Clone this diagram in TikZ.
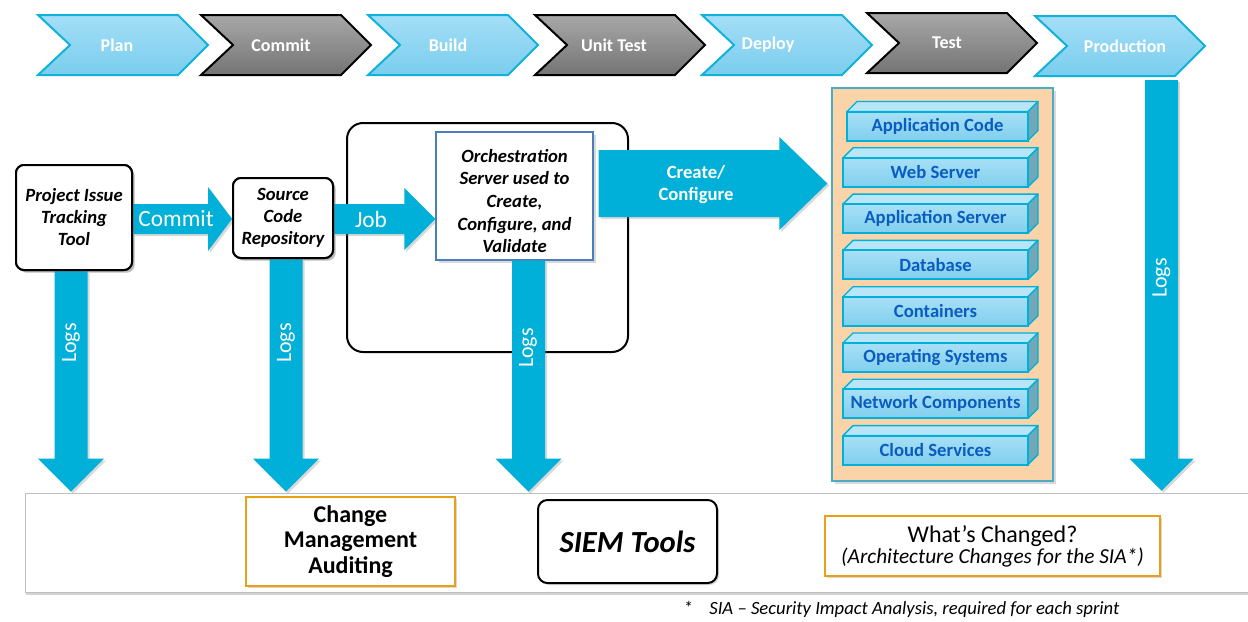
\documentclass[tikz,border=0pt]{standalone}
\usepackage{fontspec}
\setmainfont{Carlito}
\usetikzlibrary{calc,shadows}
\definecolor{blk}{RGB}{0,176,216}
\definecolor{chevline}{RGB}{16,178,218}
\definecolor{chevtop}{RGB}{164,222,247}
\definecolor{chevbot}{RGB}{122,205,238}
\definecolor{graytop}{RGB}{168,168,168}
\definecolor{graybot}{RGB}{116,116,116}
\definecolor{orangeb}{RGB}{232,160,20}
\definecolor{stackbg}{RGB}{250,212,168}
\definecolor{stackline}{RGB}{75,172,198}
\definecolor{laytopc}{RGB}{184,230,248}
\definecolor{layfronttop}{RGB}{168,224,246}
\definecolor{layfrontbot}{RGB}{128,207,238}
\definecolor{laysidec}{RGB}{112,168,186}
\definecolor{laytext}{RGB}{10,92,192}
\definecolor{orchline}{RGB}{74,126,187}
\newcommand\chev[6]{%
  \path[#3] (#1,#2) -- ++(140,0) -- ++(30,30) -- ++(-30,30) -- ++(-140,0) -- ++(32,-30) -- cycle;
  \node[chevtext] (#4) at ($(#1,#2)+(#6,30)$) {#5};}
\newcommand\hblk[5]{%
  \fill[blkarrow] ($(#1)+(0,-#3)$) -- ($(#2)+(-#5,-#3)$) -- ($(#2)+(-#5,-#4)$) -- (#2)
    -- ($(#2)+(-#5,#4)$) -- ($(#2)+(-#5,#3)$) -- ($(#1)+(0,#3)$) -- cycle;}
\newcommand\vblk[5]{%
  \fill[blkarrow] ($(#1)+(-#3,0)$) -- ($(#2)+(-#3,-#5)$) -- ($(#2)+(-#4,-#5)$) -- (#2)
    -- ($(#2)+(#4,-#5)$) -- ($(#2)+(#3,-#5)$) -- ($(#1)+(#3,0)$) -- cycle;}
\newcommand\layer[4]{%
  \filldraw[laytop] (#1,#2-14.5) -- (#1+10,#2-24.5) -- (1038,#2-24.5) -- (1028,#2-14.5) -- cycle;
  \filldraw[layside] (1028,#2-14.5) -- (1038,#2-24.5) -- (1038,#2+4.5) -- (1028,#2+14.5) -- cycle;
  \node[layfront, minimum width={(1028-#1)*0.75pt}] (#3) at ({(#1+1028)/2},#2) {#4};}
\begin{document}
\begin{tikzpicture}[x=0.75pt,y=-0.75pt,
  blkarrow/.style={fill=blk, drop shadow={shadow xshift=1.5pt,shadow yshift=-1.5pt,opacity=0.3}},
  chevblue/.style={draw=chevline, line width=1.5pt, top color=chevtop, bottom color=chevbot},
  chevgray/.style={draw=black, line width=1.5pt, top color=graytop, bottom color=graybot},
  chevtext/.style={text=white, font=\bfseries\fontsize{13.5}{16}\selectfont},
  roundbox/.style={draw=black, line width=1.5pt, fill=white, rounded corners=6pt, align=center,
    inner sep=0pt, drop shadow={shadow xshift=2pt,shadow yshift=-2pt,opacity=0.3},
    font=\bfseries\itshape\fontsize{14}{16.5}\selectfont},
  arrowlbl/.style={text=white, font=\fontsize{17.5}{20}\selectfont},
  logslbl/.style={text=white, rotate=90, font=\fontsize{16.5}{18}\selectfont},
  laytop/.style={fill=laytopc, draw=blk, line width=1pt, line join=round},
  layside/.style={fill=laysidec, draw=blk, line width=1pt, line join=round},
  layfront/.style={draw=blk, line width=1.5pt, top color=layfronttop, bottom color=layfrontbot,
    minimum height=21.75pt, inner sep=0pt, text=laytext, font=\bfseries\fontsize{14}{16}\selectfont},
  orangebox/.style={draw=orangeb, line width=1.8pt, fill=white, align=center, inner sep=0pt,
    drop shadow={shadow xshift=1.5pt,shadow yshift=-1.5pt,opacity=0.3}}
]
\useasboundingbox (0,0) rectangle (1248,621);

% phase chevrons
\chev{38}{15}{chevblue}{plan}{Plan}{79}
\chev{201}{15}{chevgray}{commit}{Commit}{80}
\chev{368}{15}{chevblue}{build}{Build}{80}
\chev{535}{15}{chevgray}{unittest}{Unit Test}{79}
\chev{702}{15}{chevblue}{deploy}{Deploy}{66}
\chev{867}{13}{chevgray}{test}{Test}{80}
\chev{1035}{16}{chevblue}{prod}{Production}{90}

% bottom panel
\node[draw=black!25, fill=white, minimum width=926.25pt, minimum height=74.25pt, inner sep=0pt,
  drop shadow={shadow xshift=1pt,shadow yshift=-2pt,opacity=0.35}] (panel) at (642.5,542.5) {};

% orchestration frame
\node[draw=black, line width=1.5pt, rounded corners=12pt, minimum width=210.75pt,
  minimum height=171.75pt, inner sep=0pt] (orchbg) at (487.5,237.5) {};

% stack panel
\node[draw=stackline, line width=1pt, fill=stackbg, minimum width=165.75pt, minimum height=294.75pt,
  inner sep=0pt, drop shadow={shadow xshift=2.5pt,shadow yshift=-2.5pt,opacity=0.3}] (stack) at (942.5,284.5) {};

% main boxes
\node[roundbox, minimum width=87pt, minimum height=78.75pt] (ptt) at (74,217.5)
  {Project Issue\\Tracking\\Tool};
\node[roundbox, minimum width=75pt, minimum height=60pt] (scr) at (283,218)
  {Source\\Code\\Repository};
\node[draw=orchline, line width=0.8pt, fill=white, minimum width=117.75pt, minimum height=96pt,
  inner sep=0pt, drop shadow={shadow xshift=2pt,shadow yshift=-2pt,opacity=0.3}] (orch) at (514.5,196) {};
\node[align=center, font=\bfseries\itshape\fontsize{14}{17}\selectfont] (orchtxt) at ($(orch.center)+(0,5)$)
  {Orchestration\\Server used to\\Create,\\Configure, and\\Validate};

% connectors (block arrows)
\coordinate (cA) at (ptt.east |- 0,219);
\coordinate (cB) at (scr.west |- 0,219);
\hblk{cA}{cB}{15}{32}{24}
\node[arrowlbl] (lcommit) at (176,219) {Commit};
\coordinate (jA) at (scr.east |- 0,219);
\coordinate (jB) at (orch.west |- 0,219);
\hblk{jA}{jB}{15}{31}{31}
\node[arrowlbl] (ljob) at (371,219) {Job};
\coordinate (gA) at ($(orch.east |- 0,183.5)+(5,0)$);
\coordinate (gB) at ($(stack.west |- 0,183.5)+(-4,0)$);
\hblk{gA}{gB}{33.5}{46.5}{48}
\node[text=white, align=center, font=\bfseries\fontsize{14}{16.5}\selectfont] (lcreate) at (696,185)
  {Create/\\Configure};

\coordinate (l1t) at ($(ptt.south)+(-3,0)$);
\coordinate (l1b) at ($(l1t |- panel.north)+(0,-1)$);
\vblk{l1t}{l1b}{16.5}{33}{33}
\node[logslbl] (logs1) at (71,343) {Logs};
\coordinate (l2t) at ($(scr.south)+(3,0)$);
\coordinate (l2b) at ($(l2t |- panel.north)+(0,-1)$);
\vblk{l2t}{l2b}{16.5}{33}{33}
\node[logslbl] (logs2) at (286,343) {Logs};
\coordinate (l3t) at ($(orch.south)+(14,0)$);
\coordinate (l3b) at ($(l3t |- panel.north)+(0,-1)$);
\vblk{l3t}{l3b}{16.5}{33}{33}
\node[logslbl] (logs3) at (528,348) {Logs};
\coordinate (l4t) at (1161.5,80);
\coordinate (l4b) at ($(l4t |- panel.north)+(0,-2)$);
\vblk{l4t}{l4b}{16.5}{32}{32}
\node[logslbl] (logs4) at (1161.5,278) {Logs};

% redraw box fronts over arrow starts
\node[roundbox, minimum width=87pt, minimum height=78.75pt] at (ptt) {Project Issue\\Tracking\\Tool};
\node[roundbox, minimum width=75pt, minimum height=60pt] at (scr) {Source\\Code\\Repository};

% stack layers
\layer{847}{126}{appcode}{Application Code}
\layer{843}{172.3}{websrv}{Web Server}
\layer{843}{218.6}{appsrv}{Application Server}
\layer{843}{264.9}{db}{Database}
\layer{843}{311.2}{cont}{Containers}
\layer{843}{357.5}{os}{Operating Systems}
\layer{843}{403.8}{net}{Network Components}
\layer{843}{450.1}{cloud}{Cloud Services}

% bottom boxes
\node[orangebox, minimum width=156.75pt, minimum height=66.75pt,
  font=\bfseries\fontsize{18}{19}\selectfont] (cma) at (350.5,541.5) {Change\\Management\\Auditing};
\node[draw=black, line width=1.5pt, fill=white, rounded corners=7pt, minimum width=134.25pt,
  minimum height=62.25pt, inner sep=0pt, drop shadow={shadow xshift=1.5pt,shadow yshift=-1.5pt,opacity=0.3},
  font=\bfseries\itshape\fontsize{23}{26}\selectfont] (siem) at (627.5,541.5) {SIEM Tools};
\node[orangebox, minimum width=251.25pt, minimum height=45pt] (wc) at (992.5,546)
  {{\fontsize{18}{17}\selectfont What’s Changed?}\\{\itshape\fontsize{16}{17}\selectfont (Architecture Changes for the SIA*)}};

% footnote
\node[anchor=base west, inner sep=0pt, font=\itshape\fontsize{14}{16}\selectfont] (fn) at (683,614)
  {*\hspace{0.9em}SIA – Security Impact Analysis, required for each sprint};
\end{tikzpicture}
\end{document}
